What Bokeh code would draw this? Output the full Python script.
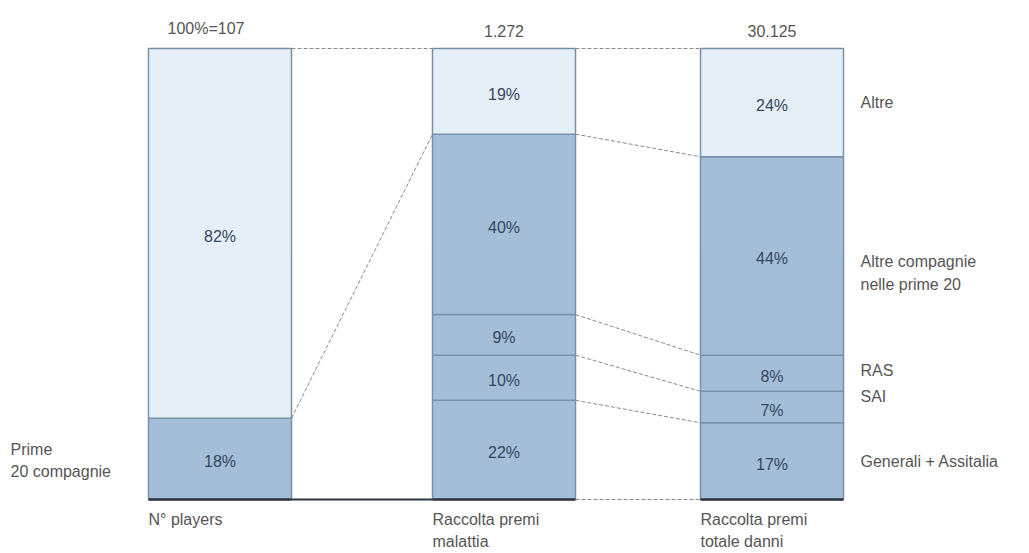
from bokeh.plotting import figure
from bokeh.models import Range1d, ColumnDataSource
from bokeh.core.properties import value
from bokeh.embed import file_html
from bokeh.resources import INLINE
import numpy as np

# ---- data ----
bar_names = ["N° players", "Raccolta premi\nmalattia", "Raccolta premi\ntotale danni"]
totals = ["100%=107", "1.272", "30.125"]
# segments listed bottom -> top
seg_left = [18, 82]
seg_mid = [22, 10, 9, 40, 19]
seg_right = [17, 7, 8, 44, 24]
right_labels = ["Generali + Assitalia", "SAI", "RAS", "Altre compagnie\nnelle prime 20", "Altre"]
left_label = "Prime\n20 compagnie"

# ---- layout ----
W, H = 1029, 553
bar_left = [148, 432, 700]
bar_w = 143
px_per = 4.51
y_bottom_px = 54
FONT = "Liberation Sans"
FS = "16px"
LIGHT = "#e4eff7"
DARK = "#a5bed8"
right_label_offsets = [0, -11, -3, 17, 0]
total_x_offsets = [-14, 0, 0]

p = figure(width=W, height=H, output_backend="svg", toolbar_location=None,
           x_range=Range1d(0, W),
           y_range=Range1d(-y_bottom_px / px_per, 100 + (H - y_bottom_px - 100 * px_per) / px_per),
           min_border=0, outline_line_color=None)
p.axis.visible = False
p.grid.visible = False

series = [seg_left, seg_mid, seg_right]
for i, segs in enumerate(series):
    cum = np.concatenate([[0], np.cumsum(segs)])
    bottoms, tops = cum[:-1], cum[1:]
    n = len(segs)
    colors = [LIGHT if k == n - 1 else DARK for k in range(n)]
    L = bar_left[i]
    R = L + bar_w
    src = ColumnDataSource(dict(bottom=bottoms, top=tops, fill=colors,
                                ymid=(bottoms + tops) / 2,
                                lab=[f"{v}%" for v in segs]))
    p.quad(left=L, right=R, bottom="bottom", top="top", fill_color="fill",
           line_color="#7891a8", line_width=1.5, source=src)
    p.text(x=(L + R) / 2, y="ymid", text="lab", source=src, text_align="center",
           text_baseline="middle", y_offset=3, text_font=value(FONT), text_font_size=FS,
           text_color="#34465c")
    # baseline
    p.segment(x0=L, y0=0, x1=R, y1=0, line_color="#2b3440", line_width=2.5)
    # totals above
    p.text(x=[(L + R) / 2], y=[100], text=[totals[i]], text_align="center",
           text_baseline="bottom", y_offset=-12, x_offset=total_x_offsets[i],
           text_font=value(FONT), text_font_size=FS, text_color="#555555")
    # category below
    p.text(x=[L], y=[0], text=[bar_names[i]], text_align="left",
           text_baseline="top", y_offset=11, text_font=value(FONT),
           text_font_size=FS, text_color="#555555", text_line_height=1.3)

# connectors
cl = np.cumsum(seg_left)
cm = np.cumsum(seg_mid)
cr = np.cumsum(seg_right)
l_r = bar_left[0] + bar_w
m_l, m_r = bar_left[1], bar_left[1] + bar_w
r_l = bar_left[2]
dash = dict(line_color="#8a8a8a", line_width=1, line_dash="4 2")
p.segment(x0=[l_r], y0=[cl[0]], x1=[m_l], y1=[cm[-2]], **dash)
p.segment(x0=[l_r, m_r], y0=[100, 100], x1=[m_l, r_l], y1=[100, 100], **dash)
p.segment(x0=[m_r] * 4, y0=list(cm[:4]), x1=[r_l] * 4, y1=list(cr[:4]), **dash)
p.segment(x0=[l_r], y0=[0], x1=[m_l], y1=[0], line_color="#2b3440", line_width=2)
p.segment(x0=[m_r], y0=[0], x1=[r_l], y1=[0], **dash)

# right labels
cr0 = np.concatenate([[0], cr])
rmid = (cr0[:-1] + cr0[1:]) / 2
for lab, ym, off in zip(right_labels, rmid, right_label_offsets):
    p.text(x=[r_l + bar_w + 17], y=[ym], text=[lab], text_align="left",
           text_baseline="middle", y_offset=off, text_font=value(FONT), text_font_size=FS,
           text_color="#555555", text_line_height=1.3)
# left label
p.text(x=[10], y=[seg_left[0] / 2], text=[left_label], text_align="left",
       text_baseline="middle", y_offset=2, text_font=value(FONT), text_font_size=FS,
       text_color="#555555", text_line_height=1.3)

open("out.html", "w").write(file_html(p, INLINE))
